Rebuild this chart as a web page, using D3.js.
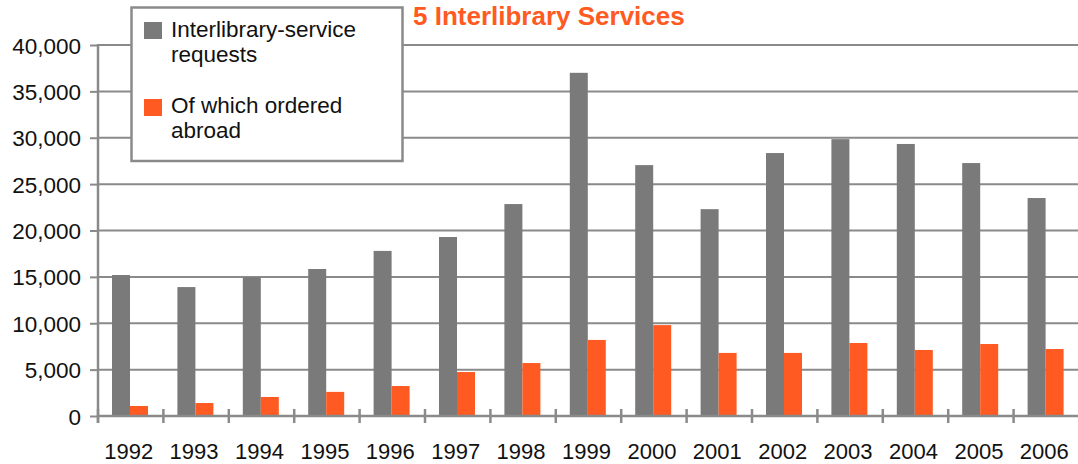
<!DOCTYPE html>
<html>
<head>
<meta charset="utf-8">
<script src="https://cdn.jsdelivr.net/npm/d3@7"></script>
<style>
  body { margin: 0; background: #fff; }
  text { font-family: "Liberation Sans", Arial, sans-serif; }
</style>
</head>
<body>
<div id="chart"></div>
<script>
// data
var years = ["1992","1993","1994","1995","1996","1997","1998","1999","2000","2001","2002","2003","2004","2005","2006"];
var requests = [15200, 13900, 14950, 15850, 17800, 19300, 22850, 37000, 27050, 22300, 28350, 29850, 29330, 27270, 23500];
var abroad = [1080, 1400, 2050, 2600, 3230, 4740, 5710, 8200, 9800, 6800, 6800, 7870, 7120, 7760, 7220];
var seriesNames = ["Interlibrary-service requests", "Of which ordered abroad"];
var yTicks = [0, 5000, 10000, 15000, 20000, 25000, 30000, 35000, 40000];

var W = 1078, H = 464;
var gray = "#7a7a7a", orange = "#ff5a22", lineCol = "#8a8a8a";

var rows = years.map(function(y, i){ return {year: y, vals: [requests[i], abroad[i]]}; });

var svg = d3.select("#chart").append("svg")
    .attr("width", W).attr("height", H);

var x0 = d3.scaleBand().domain(years).range([98, 1079]);
var x1 = d3.scaleBand().domain([0, 1]).range([14, 50]);
var y = d3.scaleLinear().domain([0, 40000]).range([416, 45]);

// gridlines
svg.append("g").selectAll("line")
  .data(yTicks.slice(1))
  .enter().append("line")
  .attr("x1", 98).attr("x2", W)
  .attr("y1", function(d){ return y(d); })
  .attr("y2", function(d){ return y(d); })
  .attr("stroke", lineCol).attr("stroke-width", 2);

// bars
var groups = svg.append("g").selectAll("g")
  .data(rows).enter().append("g")
  .attr("transform", function(d){ return "translate(" + x0(d.year) + ",0)"; });
groups.selectAll("rect")
  .data(function(d){ return d.vals; })
  .enter().append("rect")
  .attr("x", function(d, i){ return x1(i); })
  .attr("width", x1.bandwidth())
  .attr("y", function(d){ return y(d); })
  .attr("height", function(d){ return y(0) - y(d); })
  .attr("fill", function(d, i){ return i === 0 ? gray : orange; });

// y axis
var yAxis = svg.append("g")
  .attr("transform", "translate(98,0)")
  .call(d3.axisLeft(y).tickValues(yTicks).tickSize(8).tickPadding(9)
        .tickFormat(d3.format(",")));
yAxis.select(".domain").remove();
yAxis.selectAll(".tick line").attr("stroke", lineCol).attr("stroke-width", 2);
yAxis.selectAll(".tick text")
  .attr("font-size", 22.5).attr("fill", "#111")
  .attr("font-family", "Liberation Sans, Arial, sans-serif")
  .attr("dy", "0.36em");
svg.append("line")
  .attr("x1", 98).attr("x2", 98).attr("y1", 44).attr("y2", 423)
  .attr("stroke", lineCol).attr("stroke-width", 2.5);

// x axis
svg.append("line")
  .attr("x1", 98).attr("x2", W).attr("y1", y(0)).attr("y2", y(0))
  .attr("stroke", lineCol).attr("stroke-width", 2.5);
svg.append("g").selectAll("line")
  .data(years).enter().append("line")
  .attr("x1", function(d){ return x0(d); })
  .attr("x2", function(d){ return x0(d); })
  .attr("y1", y(0) - 7).attr("y2", y(0) + 7)
  .attr("stroke", lineCol).attr("stroke-width", 2.5);
svg.append("g").selectAll("text")
  .data(years).enter().append("text")
  .attr("x", function(d){ return x0(d) + x0.bandwidth() / 2 - 2; })
  .attr("y", 459)
  .attr("text-anchor", "middle")
  .attr("font-size", 22).attr("fill", "#111")
  .text(function(d){ return d; });

// title
svg.append("text")
  .attr("x", 413).attr("y", 25)
  .attr("font-size", 26).attr("font-weight", "bold")
  .attr("fill", orange)
  .text("5 Interlibrary Services");

// legend
var legend = svg.append("g").attr("class", "legend");
legend.append("rect")
  .attr("x", 131.5).attr("y", 7.5).attr("width", 271).attr("height", 153.5)
  .attr("fill", "#fff").attr("stroke", lineCol).attr("stroke-width", 2.5);
var legLines = [["Interlibrary-service", "requests"], ["Of which ordered", "abroad"]];
legend.selectAll(".sw")
  .data(seriesNames).enter().append("rect")
  .attr("x", 144).attr("width", 18).attr("height", 17)
  .attr("y", function(d, i){ return 22 + i * 77; })
  .attr("fill", function(d, i){ return i === 0 ? gray : orange; });
legend.selectAll(".lt")
  .data(legLines).enter().append("text")
  .attr("x", 171)
  .attr("y", function(d, i){ return 37 + i * 76; })
  .attr("font-size", 22.5).attr("fill", "#111")
  .each(function(d){
    var t = d3.select(this);
    d.forEach(function(s, j){
      t.append("tspan").attr("x", 171).attr("dy", j === 0 ? 0 : 25).text(s);
    });
  });
</script>
</body>
</html>
